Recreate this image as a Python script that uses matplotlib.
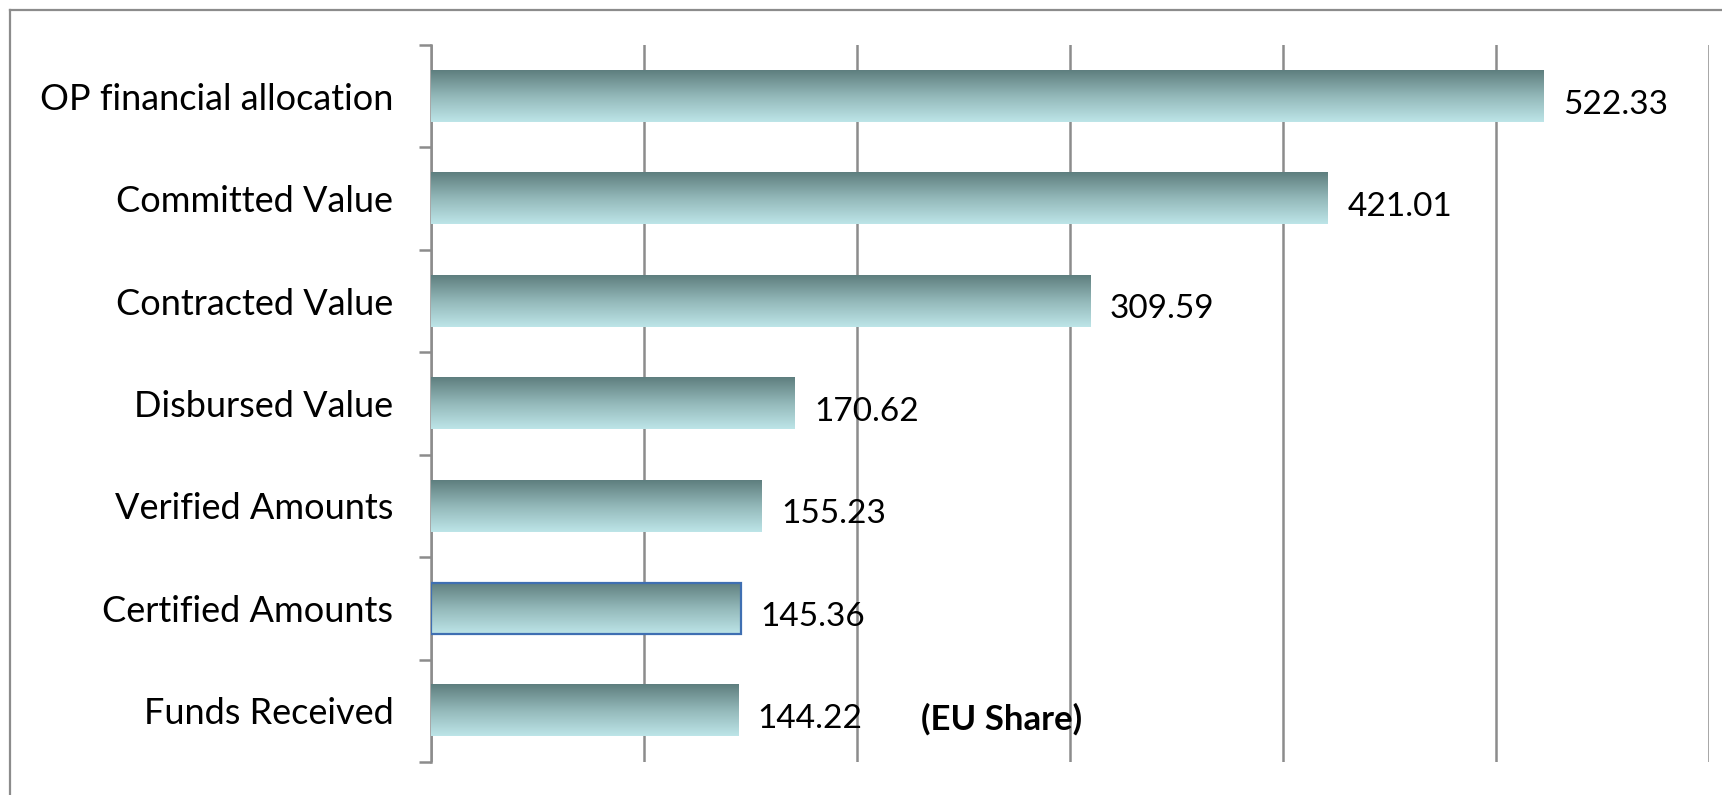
import numpy as np
import matplotlib
matplotlib.use("Agg")
import matplotlib.pyplot as plt
from matplotlib.colors import LinearSegmentedColormap
from matplotlib.lines import Line2D

plt.rcParams['font.family'] = ['Lato', 'DejaVu Sans']

categories = ["OP financial allocation", "Committed Value", "Contracted Value",
              "Disbursed Value", "Verified Amounts", "Certified Amounts",
              "Funds Received"]
values = [522.33, 421.01, 309.59, 170.62, 155.23, 145.36, 144.22]
note = "(EU Share)"

grid_col = "#8c8c8c"
# top of the bar dark, bottom light
grad = LinearSegmentedColormap.from_list("bar", ["#5e7e7e", "#93b8b9", "#bde5e8"])

fig = plt.figure(figsize=(17.22, 7.95), dpi=100)
ax = fig.add_axes([431 / 1722, 1 - 762 / 795, 1278 / 1722, 717 / 795])

y = np.arange(len(categories))
bars = ax.barh(y, values, height=0.5, color="none", edgecolor="none", zorder=3)

# gradient fill inside every bar
g = np.linspace(0, 1, 256).reshape(-1, 1)
for b in bars:
    x0, y0 = b.get_x(), b.get_y()
    w, h = b.get_width(), b.get_height()
    ax.imshow(g, cmap=grad, aspect="auto", origin="upper",
              extent=(x0, x0 + w, y0 + h, y0), zorder=3, interpolation="bilinear")

# highlighted outline on "Certified Amounts"
bars[5].set_edgecolor("#3f6fb2")
bars[5].set_linewidth(1.6)
bars[5].set_zorder(4)

for i, v in enumerate(values):
    ax.annotate(f"{v:.2f}", xy=(v, i), xytext=(14, -6), textcoords="offset points",
                ha="left", va="center", fontsize=24, color="black")

ax.annotate(note, xy=(230, 6), xytext=(0, -6), textcoords="offset points",
            fontsize=25, fontweight="bold", va="center", ha="left")

ax.set_xlim(0, 600)
ax.set_ylim(len(categories) - 0.5, -0.5)
ax.set_xticks(np.arange(0, 601, 100))
ax.tick_params(axis="x", length=0, labelbottom=False)
ax.grid(axis="x", color=grid_col, lw=1.8, zorder=1)

ax.set_yticks(np.arange(-0.5, len(categories), 1))
ax.set_yticklabels([])
ax.set_yticks(y, minor=True)
ax.set_yticklabels(categories, minor=True, fontsize=26)
ax.tick_params(axis="y", which="major", length=9, width=1.8, color=grid_col)
ax.tick_params(axis="y", which="minor", length=0, pad=27)

for s in ["top", "right", "bottom"]:
    ax.spines[s].set_visible(False)
ax.spines["left"].set_color(grid_col)
ax.spines["left"].set_linewidth(1.8)

# outer frame (top and left edges visible)
fig.add_artist(Line2D([10 / 1722, 1], [1 - 10 / 795] * 2, color=grid_col, lw=1.6))
fig.add_artist(Line2D([10 / 1722] * 2, [0, 1 - 10 / 795], color=grid_col, lw=1.6))

fig.savefig("out.png", dpi=100)
